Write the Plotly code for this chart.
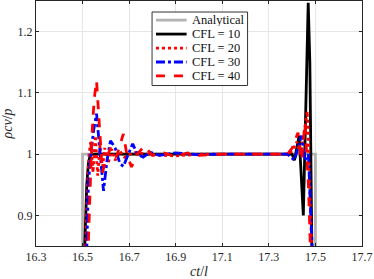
import plotly.graph_objects as go

# Analytical
x_an = [16.5, 16.5, 17.5, 17.5]
y_an = [0.80, 1.0, 1.0, 0.80]

# CFL = 10
x_c10 = [16.505, 16.512, 16.518, 16.525, 16.532, 16.54, 16.56, 16.7, 16.9, 17.1, 17.3, 17.40, 17.41, 17.43, 17.448, 17.469, 17.476, 17.486]
y_c10 = [0.80, 0.88, 0.95, 0.985, 0.997, 1.0, 1.0, 1.0, 1.0, 1.0, 1.0, 1.0, 0.99, 1.03, 0.90, 1.247, 1.15, 0.80]

# CFL = 20
x_c20 = [16.51, 16.52, 16.528, 16.535, 16.545, 16.555, 16.565, 16.575, 16.585, 16.595, 16.61, 16.625, 16.64, 16.66, 16.68, 16.72, 16.8, 16.9, 17.0, 17.1, 17.2, 17.3, 17.38, 17.40, 17.42, 17.435, 17.45, 17.465, 17.475, 17.488]
y_c20 = [0.80, 0.94, 1.00, 1.02, 0.97, 1.03, 0.965, 1.015, 0.975, 1.01, 0.985, 1.008, 0.99, 1.005, 0.995, 1.003, 0.999, 0.997, 1.0, 1.0, 1.0, 1.0, 1.0, 1.005, 1.02, 1.0, 1.03, 1.07, 0.95, 0.80]

# CFL = 30
x_c30 = [16.515, 16.525, 16.535, 16.548, 16.56, 16.575, 16.59, 16.605, 16.62, 16.64, 16.66, 16.675, 16.695, 16.715, 16.735, 16.76, 16.79, 16.83, 16.9, 17.0, 17.1, 17.2, 17.3, 17.38, 17.41, 17.44, 17.455, 17.47, 17.48, 17.492]
y_c30 = [0.80, 0.95, 1.00, 1.04, 1.066, 1.0, 0.94, 0.99, 1.022, 1.01, 0.985, 0.98, 1.0, 1.017, 1.0, 0.995, 1.003, 0.998, 1.002, 0.999, 1.0, 1.0, 1.0, 1.0, 0.99, 1.03, 0.99, 1.0, 0.90, 0.80]

# CFL = 40
x_c40 = [16.52, 16.53, 16.54, 16.55, 16.56, 16.57, 16.585, 16.6, 16.62, 16.645, 16.675, 16.69, 16.71, 16.735, 16.765, 16.8, 16.85, 16.9, 16.95, 17.0, 17.1, 17.2, 17.3, 17.38, 17.40, 17.425, 17.44, 17.455, 17.47, 17.482]
y_c40 = [0.80, 0.92, 1.03, 1.09, 1.12, 1.06, 0.97, 0.99, 1.01, 0.995, 1.033, 1.0, 0.979, 1.0, 1.013, 0.998, 1.002, 0.996, 1.002, 0.998, 1.0, 1.0, 1.0, 1.0, 1.01, 1.035, 0.99, 1.05, 0.95, 0.80]

series_names = ["Analytical", "CFL = 10", "CFL = 20", "CFL = 30", "CFL = 40"]

x_ticks = [16.3, 16.5, 16.7, 16.9, 17.1, 17.3, 17.5, 17.7]
y_ticks = [0.9, 1.0, 1.1, 1.2]
y_ticklabels = ["0.9", "1", "1.1", "1.2"]

FONT = "Liberation Serif"

styles = [
    dict(color="#b3b3b3", width=2.8),
    dict(color="black", width=2.8),
    dict(color="#ff0000", width=2.8, dash="dot"),
    dict(color="#0000ff", width=2.8, dash="dashdot"),
    dict(color="#ff0000", width=2.8, dash="dash"),
]
data = [(x_an, y_an), (x_c10, y_c10), (x_c20, y_c20), (x_c30, y_c30), (x_c40, y_c40)]

fig = go.Figure()
for (xs, ys), name, st in zip(data, series_names, styles):
    fig.add_trace(go.Scatter(x=xs, y=ys, mode="lines", name=name, line=st, showlegend=False))

# manual compact legend (paper coordinates)
shapes = [dict(type="rect", xref="paper", yref="paper", x0=0.356, x1=0.649, y0=0.655, y1=0.955,
               fillcolor="white", line=dict(color="#333333", width=1), layer="above")]
annots = []
row_y = [0.922, 0.865, 0.808, 0.751, 0.694]
for ry, name, st in zip(row_y, series_names, styles):
    shapes.append(dict(type="line", xref="paper", yref="paper", x0=0.368, x1=0.462, y0=ry, y1=ry,
                       line=st, layer="above"))
    annots.append(dict(xref="paper", yref="paper", x=0.476, y=ry, text=name, showarrow=False,
                       xanchor="left", yanchor="middle", height=12, borderpad=0,
                       font=dict(family=FONT, size=12.5, color="#111111")))

fig.update_layout(
    width=374, height=279,
    margin=dict(l=36, r=12, t=1, b=33),
    paper_bgcolor="white", plot_bgcolor="white",
    font=dict(family=FONT, size=12, color="#262626"),
    showlegend=False,
    shapes=shapes, annotations=annots,
)
fig.update_xaxes(range=[16.3, 17.7], tickvals=x_ticks, ticktext=[f"{v:.1f}" for v in x_ticks],
                 showgrid=True, gridcolor="#e6e6e6", gridwidth=1, zeroline=False,
                 showline=True, linecolor="#262626", linewidth=1, mirror="ticks",
                 ticks="inside", ticklen=3, tickcolor="#262626",
                 title=dict(text="<i>ct</i>/<i>l</i>", standoff=2, font=dict(family=FONT, size=14)))
fig.update_yaxes(range=[0.85, 1.25], tickvals=y_ticks, ticktext=y_ticklabels,
                 showgrid=True, gridcolor="#e6e6e6", gridwidth=1, zeroline=False,
                 showline=True, linecolor="#262626", linewidth=1, mirror="ticks",
                 ticks="inside", ticklen=3, tickcolor="#262626",
                 title=dict(text="<i>ρcv</i>/<i>p</i>", standoff=2, font=dict(family=FONT, size=14)))

fig.write_html("out.html", config={"displayModeBar": False},
               post_script="document.body.style.margin='0';document.body.style.overflow='hidden';")
